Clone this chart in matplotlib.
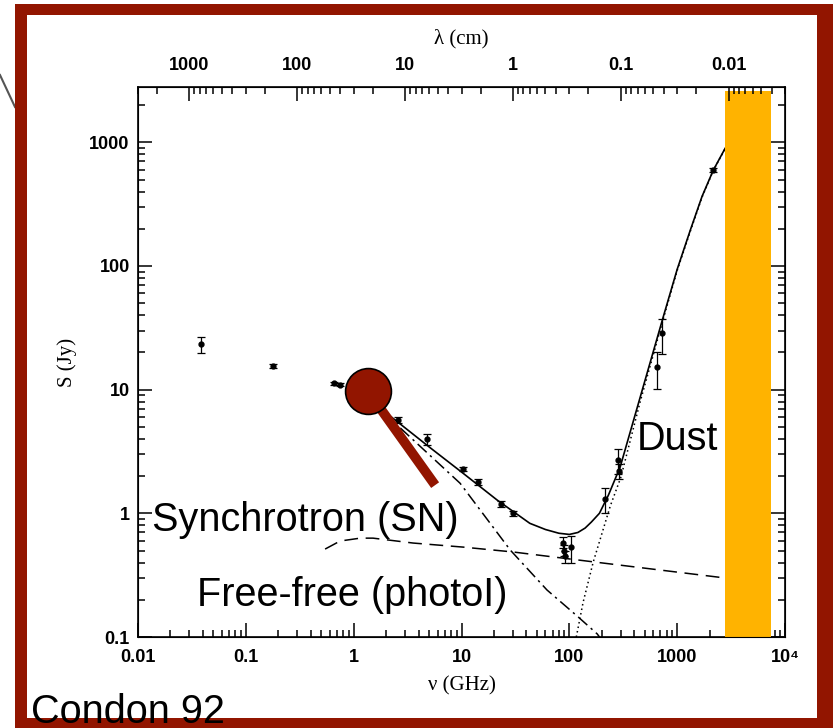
import matplotlib.pyplot as plt
from matplotlib.patches import Rectangle
from matplotlib.lines import Line2D

plt.rcParams['font.family'] = ['Liberation Sans', 'DejaVu Sans']

# model curves (nu in GHz, S in Jy)
nu_total = [1.3, 1.87, 5.1, 10.4, 21.4, 43, 60, 80, 100, 120, 140, 160, 190, 230, 296, 454, 741, 1000, 1321, 1700, 2160, 2786, 4750]
s_total = [8.3, 6.8, 3.4, 2.1, 1.28, 0.83, 0.74, 0.69, 0.675, 0.70, 0.76, 0.85, 1.0, 1.4, 2.37, 8.7, 38.5, 94, 194, 365, 594, 895, 1800]

nu_sync = [1.3, 1.87, 9.7, 28.3, 62, 121, 181, 260]
s_sync = [9.0, 6.6, 1.75, 0.505, 0.24, 0.145, 0.106, 0.07]

nu_ff = [0.543, 0.748, 1.15, 1.51, 3.56, 10.4, 30, 87.5, 344, 2786, 4750]
s_ff = [0.514, 0.597, 0.63, 0.63, 0.575, 0.533, 0.487, 0.434, 0.375, 0.30, 0.285]

nu_dust = [116, 134, 166, 240, 300, 454, 741, 1000, 1321, 1700, 2160, 2786, 4750]
s_dust = [0.1, 0.19, 0.40, 1.15, 1.95, 8.0, 37, 92, 190, 360, 590, 890, 1800]

# measurements
nu_pts = [0.0384, 0.179, 0.65, 0.75, 2.58, 4.8, 10.4, 14.3, 23.3, 30.1, 87, 90, 92, 104, 215, 284, 290, 653, 726, 2160]
s_pts = [23.3, 15.5, 11.3, 11.0, 5.7, 3.98, 2.28, 1.79, 1.19, 1.0, 0.58, 0.50, 0.45, 0.53, 1.3, 2.69, 2.2, 15.2, 28.6, 594]
s_err = [3.5, 0.5, 0.3, 0.3, 0.3, 0.4, 0.1, 0.09, 0.06, 0.05, 0.06, 0.05, 0.05, 0.13, 0.3, 0.6, 0.3, 5, 9, 20]

# overlay marks
pin_nu = [1.36, 5.69]
pin_s = [9.7, 1.69]
band_nu = [2800, 7450]

x_ticks = [0.01, 0.1, 1, 10, 100, 1000, 1e4]
x_labels = ['0.01', '0.1', '1', '10', '100', '1000', '10⁴']
lam_ticks = [1000, 100, 10, 1, 0.1, 0.01]
lam_labels = ['1000', '100', '10', '1', '0.1', '0.01']
y_ticks = [0.1, 1, 10, 100, 1000]
y_labels = ['0.1', '1', '10', '100', '1000']

red = '#921500'
orange = '#FFB300'
serif = ['Liberation Serif', 'DejaVu Serif']

fig = plt.figure(figsize=(8.33, 7.28), dpi=100)
ax = fig.add_axes([0.1657, 0.125, 0.7767, 0.7555])

ax.plot(nu_total, s_total, 'k-', lw=1.2)
ax.plot(nu_sync, s_sync, color='k', lw=1.1, ls=(0, (8, 3, 1.5, 3)))
ax.plot(nu_ff, s_ff, color='k', lw=1.1, ls=(0, (9, 5)))
ax.plot(nu_dust, s_dust, color='k', lw=1.1, ls=(0, (1, 2)))
ax.errorbar(nu_pts, s_pts, yerr=s_err, fmt='o', color='k', ms=3.5,
            elinewidth=0.9, capsize=3, capthick=0.9)

ax.axvspan(band_nu[0], band_nu[1], ymin=0, ymax=0.992, color=orange, zorder=6, lw=0)
ax.plot(pin_nu, pin_s, color=red, lw=7, solid_capstyle='butt', zorder=7)
ax.plot(pin_nu[:1], pin_s[:1], 'o', ms=33, mfc=red, mec='k', mew=1.2, zorder=8)

ax.set_xscale('log')
ax.set_yscale('log')
ax.set_xlim(0.01, 1e4)
ax.set_ylim(0.1, 2800)
ax.set_xticks(x_ticks)
ax.set_xticklabels(x_labels)
ax.set_yticks(y_ticks)
ax.set_yticklabels(y_labels)
ax.tick_params(which='both', direction='in', top=False, right=True, width=1.1)
ax.tick_params(which='major', length=10, labelsize=13)
ax.tick_params(axis='x', which='major', pad=9)
ax.tick_params(axis='y', which='major', pad=6)
ax.tick_params(which='minor', length=5)
for lbl in ax.get_xticklabels() + ax.get_yticklabels():
    lbl.set_fontweight('bold')
for sp in ax.spines.values():
    sp.set_linewidth(1.2)
ax.set_xlabel('ν (GHz)', family=serif, fontsize=15, labelpad=7)
ax.set_ylabel('S (Jy)', family=serif, fontsize=15, labelpad=9)

ax2 = ax.twiny()
ax2.set_xscale('log')
ax2.set_xlim(30 / 0.01, 30 / 1e4)
ax2.set_xticks(lam_ticks)
ax2.set_xticklabels(lam_labels)
ax2.tick_params(which='both', direction='in', width=1.1)
ax2.tick_params(which='major', length=10, labelsize=13, pad=9)
ax2.tick_params(which='minor', length=5)
for lbl in ax2.get_xticklabels():
    lbl.set_fontweight('bold')
ax2.set_xlabel('λ (cm)', family=serif, fontsize=15, labelpad=10)

# annotations
fig.text(0.1825, 0.2706, 'Synchrotron (SN)', fontsize=28.5, va='baseline', zorder=10)
fig.text(0.2365, 0.1676, 'Free-free (photoI)', fontsize=28.5, va='baseline', zorder=10)
fig.text(0.7647, 0.3819, 'Dust', fontsize=28.5, va='baseline', zorder=10)

# dark red frame
for x0, y0, w, h in [(15 / 833, 0, 11.5 / 833, 724 / 728),
                     (15 / 833, 713 / 728, 818 / 833, 11 / 728),
                     (817 / 833, 0, 16 / 833, 724 / 728),
                     (15 / 833, 0, 818 / 833, 10 / 728)]:
    fig.add_artist(Rectangle((x0, y0), w, h, transform=fig.transFigure,
                             facecolor=red, edgecolor='none', zorder=20))
fig.add_artist(Line2D([0, 15 / 833], [1 - 75 / 728, 1 - 107 / 728],
                      transform=fig.transFigure, color='#555555', lw=1.5))
fig.text(0.0372, 0.007, 'Condon 92', fontsize=28.5, va='baseline', zorder=30)

fig.savefig('out.png', dpi=100)
